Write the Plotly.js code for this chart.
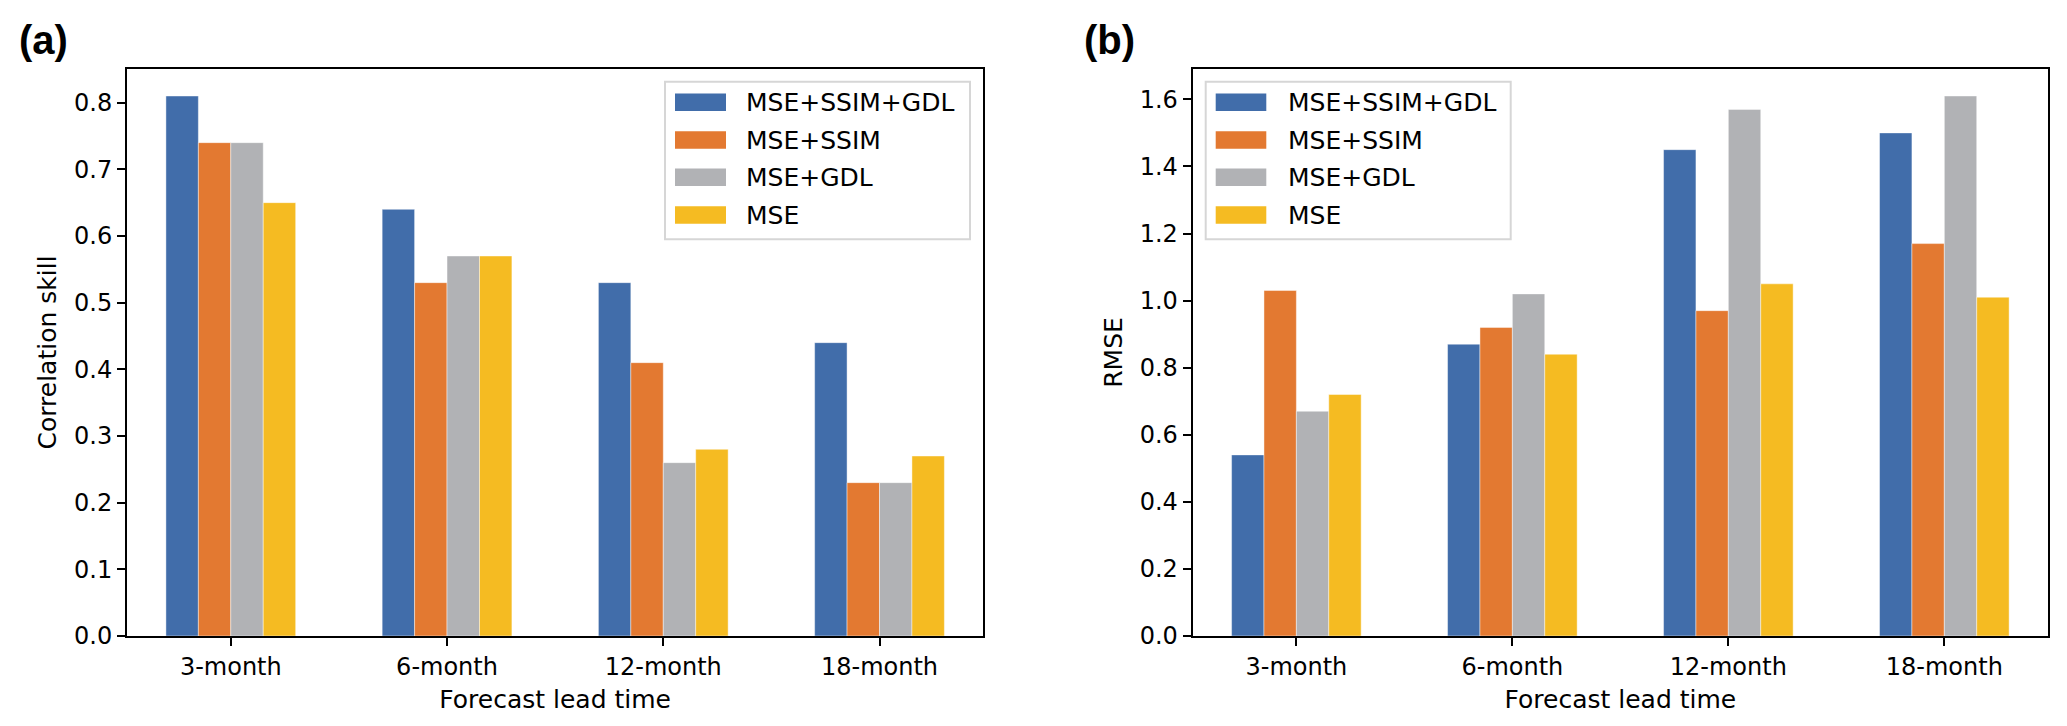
<!DOCTYPE html>
<html>
<head>
<meta charset="utf-8">
<script src="https://cdn.plot.ly/plotly-3.0.1.min.js"></script>
<style>html,body{margin:0;padding:0;background:#fff;}</style>
</head>
<body>
<div id="chart" style="width:2067px;height:726px;"></div>
<script>
// ---- data ----
const categories = ['3-month', '6-month', '12-month', '18-month'];
const seriesNames = ['MSE+SSIM+GDL', 'MSE+SSIM', 'MSE+GDL', 'MSE'];
const seriesColors = ['#416DAA', '#E37931', '#B1B2B5', '#F5BB22'];

// (a) Correlation skill
const corrMseSsimGdl = [0.81, 0.64, 0.53, 0.44];
const corrMseSsim    = [0.74, 0.53, 0.41, 0.23];
const corrMseGdl     = [0.74, 0.57, 0.26, 0.23];
const corrMse        = [0.65, 0.57, 0.28, 0.27];

// (b) RMSE
const rmseMseSsimGdl = [0.54, 0.87, 1.45, 1.50];
const rmseMseSsim    = [1.03, 0.92, 0.97, 1.17];
const rmseMseGdl     = [0.67, 1.02, 1.57, 1.61];
const rmseMse        = [0.72, 0.84, 1.05, 1.01];

const yTicksA = [0.0, 0.1, 0.2, 0.3, 0.4, 0.5, 0.6, 0.7, 0.8];
const yTicksB = [0.0, 0.2, 0.4, 0.6, 0.8, 1.0, 1.2, 1.4, 1.6];

// ---- geometry helpers ----
const W = 2067, H = 726, MT = 69, MB = 90;
const PH = H - MT - MB;
const px = x => x / W;
const py = y => (H - MB - y) / PH;

const corrSeries = [corrMseSsimGdl, corrMseSsim, corrMseGdl, corrMse];
const rmseSeries = [rmseMseSsimGdl, rmseMseSsim, rmseMseGdl, rmseMse];

const traces = [];
function addBars(seriesList, xa, ya) {
  seriesList.forEach((vals, i) => {
    traces.push({
      type: 'bar', x: categories, y: vals, name: seriesNames[i],
      xaxis: xa, yaxis: ya, showlegend: false,
      marker: {color: seriesColors[i], line: {color: 'rgba(255,255,255,0.55)', width: 0.8}},
      hoverinfo: 'x+y+name'
    });
  });
}
addBars(corrSeries, 'x', 'y');
addBars(rmseSeries, 'x2', 'y2');

const maxA = Math.max(...corrSeries.flat());
const maxB = Math.max(...rmseSeries.flat());

const TICK = 24, TITLE = 25, LEG = 25;

const baseX = {
  type: 'category', range: [-0.48, 3.48], showline: true, mirror: true,
  linecolor: '#000', linewidth: 2, ticks: 'outside', ticklen: 8, tickwidth: 2,
  tickcolor: '#000', showgrid: false, zeroline: false,
  tickfont: {size: TICK, color: '#000'}
};
const baseY = {
  showline: true, mirror: true, linecolor: '#000', linewidth: 2,
  ticks: 'outside', ticklen: 8, tickwidth: 2, tickcolor: '#000',
  showgrid: false, zeroline: false, tickformat: '.1f',
  tickfont: {size: TICK, color: '#000'}, domain: [0, 1]
};

const layout = {
  width: W, height: H,
  margin: {l: 0, r: 0, t: MT, b: MB, pad: 0},
  paper_bgcolor: '#fff', plot_bgcolor: '#fff',
  font: {family: 'DejaVu Sans', size: TICK, color: '#000'},
  barmode: 'group', bargap: 0.4, bargroupgap: 0,
  showlegend: false,
  xaxis: Object.assign({}, baseX, {domain: [px(127), px(983.3)], anchor: 'y',
    title: {text: 'Forecast lead time', font: {size: TITLE}, standoff: 11}}),
  yaxis: Object.assign({}, baseY, {anchor: 'x', range: [0, maxA * 1.05],
    tickvals: yTicksA,
    title: {text: 'Correlation skill', font: {size: TITLE}, standoff: 10}}),
  xaxis2: Object.assign({}, baseX, {domain: [px(1192.7), px(2048)], anchor: 'y2',
    title: {text: 'Forecast lead time', font: {size: TITLE}, standoff: 11}}),
  yaxis2: Object.assign({}, baseY, {anchor: 'x2', range: [0, maxB * 1.05],
    tickvals: yTicksB,
    title: {text: 'RMSE', font: {size: TITLE}, standoff: 10}}),
  shapes: [],
  annotations: [
    {text: '<b>(a)</b>', xref: 'paper', yref: 'paper', x: px(43), y: py(40),
     xanchor: 'center', yanchor: 'middle', showarrow: false,
     font: {family: 'Liberation Sans', size: 40, color: '#000'}},
    {text: '<b>(b)</b>', xref: 'paper', yref: 'paper', x: px(1109.5), y: py(40),
     xanchor: 'center', yanchor: 'middle', showarrow: false,
     font: {family: 'Liberation Sans', size: 40, color: '#000'}}
  ]
};

// custom legends (matplotlib-like wide swatches)
function addLegend(boxX0, boxX1, swX0, swX1, textX) {
  const boxY0 = 81.7, boxY1 = 239.3;
  layout.shapes.push({type: 'rect', xref: 'paper', yref: 'paper',
    x0: px(boxX0), x1: px(boxX1), y0: py(boxY1), y1: py(boxY0),
    line: {color: '#d6d6d6', width: 2}, fillcolor: 'rgba(255,255,255,0.85)', layer: 'above'});
  const rowY = [102.3, 140, 177.3, 215];
  seriesNames.forEach((name, i) => {
    layout.shapes.push({type: 'rect', xref: 'paper', yref: 'paper',
      x0: px(swX0), x1: px(swX1), y0: py(rowY[i] + 8.8), y1: py(rowY[i] - 8.8),
      line: {width: 0}, fillcolor: seriesColors[i], layer: 'above'});
    layout.annotations.push({text: name, xref: 'paper', yref: 'paper',
      x: px(textX), y: py(rowY[i]), xanchor: 'left', yanchor: 'middle',
      showarrow: false, font: {size: LEG, color: '#000'}});
  });
}
addLegend(665, 970, 675, 726, 744);
addLegend(1205.7, 1510.7, 1215.7, 1266.3, 1286);

Plotly.newPlot('chart', traces, layout, {displayModeBar: false, staticPlot: true});
</script>
</body>
</html>
